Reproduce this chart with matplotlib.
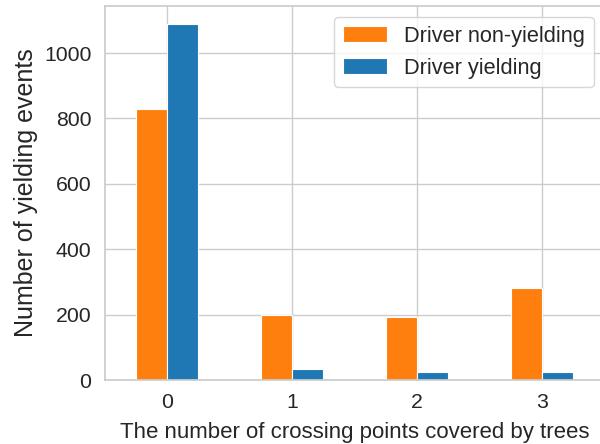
import matplotlib
matplotlib.use("Agg")
import matplotlib.pyplot as plt
import seaborn as sns
import numpy as np

categories = ["0", "1", "2", "3"]
non_yielding = [828, 200, 194, 282]
yielding = [1088, 34, 24, 23]
series_names = ["Driver non-yielding", "Driver yielding"]

sns.set_theme(style="whitegrid")
plt.rcParams['font.family'] = ['Liberation Sans', 'DejaVu Sans']

fig = plt.figure(figsize=(6.0, 4.44), dpi=100)
ax = fig.add_axes([104.5/600, 64/444, 500/600, 374/444])

x = np.arange(len(categories))
w = 0.25
ax.bar(x - w/2, non_yielding, width=w, color="#ff7f0e", edgecolor="white", linewidth=0.8, label=series_names[0])
ax.bar(x + w/2, yielding, width=w, color="#1f77b4", edgecolor="white", linewidth=0.8, label=series_names[1])

ax.set_xlim(-0.5, 3.5)
ax.set_ylim(0, 1144)
ax.set_xticks(x)
ax.set_xticklabels(categories)
ax.set_yticks([0, 200, 400, 600, 800, 1000])
ax.tick_params(axis='both', labelsize=15.3, colors='.15')
ax.set_xlabel("The number of crossing points covered by trees", fontsize=16, color='.15', labelpad=7)
ax.set_ylabel("Number of yielding events", fontsize=18, color='.15')
ax.set_axisbelow(True)
ax.legend(loc='upper right', fontsize=15.7, frameon=True, bbox_to_anchor=(1.0, 1.0))

fig.savefig("out.png", dpi=100)
